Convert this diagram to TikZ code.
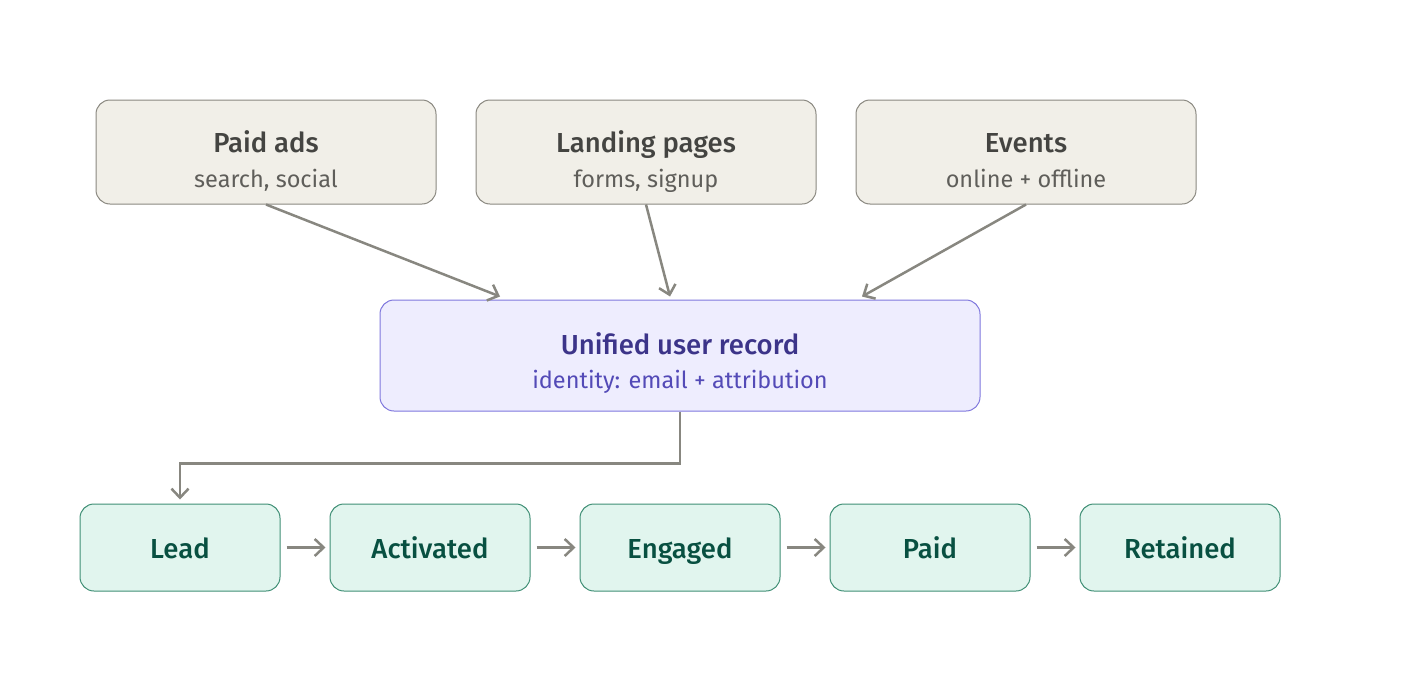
\documentclass[tikz,border=0pt]{standalone}
\usepackage{fontspec}
\setmainfont{Fira Sans}[BoldFont={Fira Sans Medium}]
\usetikzlibrary{arrows.meta,calc}
\definecolor{srcfill}{HTML}{F1EFE8}
\definecolor{srcdraw}{HTML}{8A8880}
\definecolor{srctitle}{HTML}{444441}
\definecolor{srcsub}{HTML}{5F5E5A}
\definecolor{unifill}{HTML}{EEEDFE}
\definecolor{unidraw}{HTML}{7F77DD}
\definecolor{unititle}{HTML}{3C3489}
\definecolor{unisub}{HTML}{534AB7}
\definecolor{stfill}{HTML}{E1F5EE}
\definecolor{stdraw}{HTML}{3F8F75}
\definecolor{sttext}{HTML}{085041}
\definecolor{arrcol}{HTML}{888780}
\tikzset{
  srcbox/.style={draw=srcdraw, fill=srcfill, line width=1pt, rounded corners=14pt, minimum width=340pt, minimum height=104pt, inner sep=0pt},
  unibox/.style={draw=unidraw, fill=unifill, line width=1pt, rounded corners=14pt, minimum width=600pt, minimum height=111pt, inner sep=0pt},
  stbox/.style={draw=stdraw, fill=stfill, line width=1pt, rounded corners=14pt, minimum width=200pt, minimum height=87pt, inner sep=0pt, font=\fontsize{27.5}{32}\selectfont\bfseries, text=sttext, text height=22pt, text depth=1pt},
  ttl/.style={font=\fontsize{27.5}{32}\selectfont\bfseries, inner sep=0pt, anchor=base},
  sub/.style={font=\fontsize{23.5}{28}\selectfont, inner sep=0pt, anchor=base},
  arr/.style={draw=arrcol, line width=2.5pt, -{Straight Barb[length=9pt,width=17pt]}},
}
\begin{document}
\begin{tikzpicture}[x=1pt,y=-1pt]
\useasboundingbox (0,0) rectangle (1416,672);
% sources
\node[srcbox] (paid) at (266,152) {};
\node[srcbox] (land) at (646,152) {};
\node[srcbox] (evt) at (1026,152) {};
\node[ttl,text=srctitle] (paidT) at (266,152) {Paid ads};
\node[sub,text=srcsub] (paidS) at (266,187) {search, social};
\node[ttl,text=srctitle] (landT) at (646,152) {Landing pages};
\node[sub,text=srcsub] (landS) at (646,187) {forms, signup};
\node[ttl,text=srctitle] (evtT) at (1026,152) {Events};
\node[sub,text=srcsub] (evtS) at (1026,187) {online + offline};
% unified
\node[unibox] (uni) at (680,355.5) {};
\node[ttl,text=unititle] (uniT) at (680,354) {Unified user record};
\node[sub,text=unisub] (uniS) at (680,388) {identity: email + attribution};
% stages
\node[stbox] (lead) at (180,547.5) {Lead};
\node[stbox] (act) at (430,547.5) {Activated};
\node[stbox] (eng) at (680,547.5) {Engaged};
\node[stbox] (pay) at (930,547.5) {Paid};
\node[stbox] (ret) at (1180,547.5) {Retained};
% arrows
\draw[arr] (paid.south) -- ($(uni.north)+(-180,-3)$);
\draw[arr] (land.south) -- ($(uni.north)+(-10,-3)$);
\draw[arr] (evt.south) -- ($(uni.north)+(182,-3)$);
\draw[arr] (uni.south) -- ++(0,52) -| ($(lead.north)+(0,-4)$);
\draw[arr] ($(lead.east)+(6,0)$) -- ($(act.west)+(-4,0)$);
\draw[arr] ($(act.east)+(6,0)$) -- ($(eng.west)+(-4,0)$);
\draw[arr] ($(eng.east)+(6,0)$) -- ($(pay.west)+(-4,0)$);
\draw[arr] ($(pay.east)+(6,0)$) -- ($(ret.west)+(-4,0)$);
\end{tikzpicture}
\end{document}
